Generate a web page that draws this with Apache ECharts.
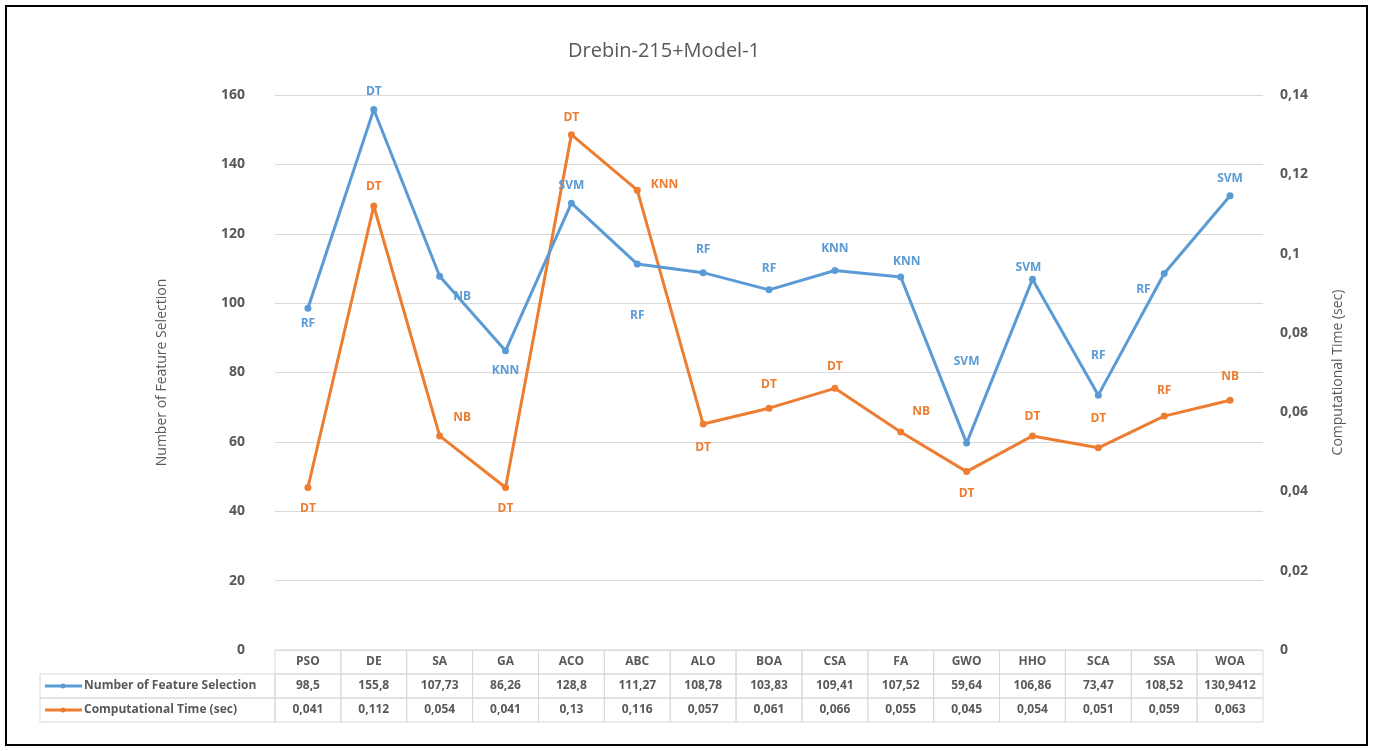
<!DOCTYPE html>
<html>
<head>
<meta charset="utf-8">
<script src="https://cdn.jsdelivr.net/npm/echarts@6/dist/echarts.min.js"></script>
<style>
  html, body { margin: 0; padding: 0; background: #fff; }
  #frame {
    position: absolute; left: 5px; top: 5px; width: 1359px; height: 737px;
    border: 2px solid #000; box-sizing: content-box;
  }
  #chart { position: absolute; left: 0; top: 0; width: 1373px; height: 751px; }
</style>
</head>
<body>
<div id="chart"></div>
<div id="frame"></div>
<script>
const categories = ["PSO", "DE", "SA", "GA", "ACO", "ABC", "ALO", "BOA", "CSA", "FA", "GWO", "HHO", "SCA", "SSA", "WOA"];
const featureCount = [98.5, 155.8, 107.73, 86.26, 128.8, 111.27, 108.78, 103.83, 109.41, 107.52, 59.64, 106.86, 73.47, 108.52, 130.9412];
const compTime = [0.041, 0.112, 0.054, 0.041, 0.13, 0.116, 0.057, 0.061, 0.066, 0.055, 0.045, 0.054, 0.051, 0.059, 0.063];
const featureClassifier = ["RF", "DT", "NB", "KNN", "SVM", "RF", "RF", "RF", "KNN", "KNN", "SVM", "SVM", "RF", "RF", "SVM"];
const timeClassifier = ["DT", "DT", "NB", "DT", "DT", "KNN", "DT", "DT", "DT", "NB", "DT", "DT", "DT", "RF", "NB"];
const seriesNames = ["Number of Feature Selection", "Computational Time (sec)"];

const BLUE = "#5B9BD5";
const ORANGE = "#ED7D31";
const TEXT = "#595959";
const GRID = "#d9d9d9";
const FONT = "'Open Sans', 'Liberation Sans', sans-serif";

// label placement per point (style only)
const blueLabelPos = [
  ["bottom", 6, [0, 0]], ["top", 8, [0, 0]], ["right", 10, [0, 20]], ["bottom", 10, [0, 0]],
  ["top", 8, [0, 0]], ["bottom", 42, [0, 0]], ["top", 14, [0, 0]], ["top", 12, [0, 0]],
  ["top", 12, [0, 0]], ["top", 6, [6, 0]], ["top", 72, [0, 0]], ["top", 2, [-4, 0]],
  ["top", 30, [0, 0]], ["left", 10, [0, 16]], ["top", 8, [0, 0]]
];
const orangeLabelPos = [
  ["bottom", 12, [0, 0]], ["top", 10, [0, 0]], ["right", 10, [0, -18]], ["bottom", 12, [0, 0]],
  ["top", 8, [0, 0]], ["right", 10, [0, -6]], ["bottom", 14, [0, 0]], ["top", 14, [0, 0]],
  ["top", 12, [0, 0]], ["right", 8, [0, -20]], ["bottom", 12, [0, 0]], ["top", 10, [0, 0]],
  ["top", 20, [0, 0]], ["top", 16, [0, 0]], ["top", 14, [0, 0]]
];

function withLabels(values, names, pos, color) {
  return values.map((v, i) => ({
    value: v,
    label: {
      show: true,
      formatter: names[i],
      position: pos[i][0],
      distance: pos[i][1],
      offset: pos[i][2],
      color: color,
      fontSize: 12,
      fontWeight: "bold",
      fontFamily: FONT
    }
  }));
}

const fmt = (v) => String(v).replace(".", ",");

// table cells: [col, row, text]
const tableCells = [];
categories.forEach((c, i) => {
  tableCells.push([i, 0, c]);
  tableCells.push([i, 1, fmt(featureCount[i])]);
  tableCells.push([i, 2, fmt(compTime[i])]);
});

const chart = echarts.init(document.getElementById("chart"), null, { renderer: "canvas" });

const gridLeft = 275, gridRight = 110;

const option = {
  backgroundColor: "#fff",
  animation: false,
  textStyle: { fontFamily: FONT },
  title: {
    text: "Drebin-215+Model-1",
    left: 659,
    top: 36,
    textAlign: "center",
    textStyle: { fontSize: 20, fontWeight: "normal", color: TEXT, fontFamily: FONT }
  },
  grid: [
    { left: gridLeft, right: gridRight, top: 95, bottom: 101 },
    { left: gridLeft, right: gridRight, top: 650, height: 72 }
  ],
  xAxis: [
    {
      gridIndex: 0, type: "category", data: categories, boundaryGap: true,
      axisLine: { show: false }, axisTick: { show: false }, axisLabel: { show: false }
    },
    {
      gridIndex: 1, type: "category", data: categories, boundaryGap: true,
      axisLine: { show: false }, axisTick: { show: false }, axisLabel: { show: false }
    }
  ],
  yAxis: [
    {
      gridIndex: 0, type: "value", min: 0, max: 160, interval: 20,
      name: "Number of Feature Selection", nameLocation: "middle", nameGap: 106,
      nameTextStyle: { color: TEXT, fontSize: 14, fontFamily: FONT },
      axisLine: { show: false }, axisTick: { show: false },
      axisLabel: { color: TEXT, fontSize: 14, fontWeight: "bold", margin: 30 },
      splitLine: { lineStyle: { color: GRID, width: 1 } }
    },
    {
      gridIndex: 0, type: "value", min: 0, max: 0.14, interval: 0.02, position: "right",
      name: "Computational Time (sec)", nameLocation: "middle", nameGap: 68,
      nameRotate: 90,
      nameTextStyle: { color: TEXT, fontSize: 14, fontFamily: FONT },
      axisLine: { show: false }, axisTick: { show: false },
      axisLabel: {
        color: TEXT, fontSize: 14, fontWeight: "bold", margin: 17,
        formatter: (v) => String(+v.toFixed(2)).replace(".", ",")
      },
      splitLine: { show: false }
    },
    {
      gridIndex: 1, type: "category", data: ["", seriesNames[0], seriesNames[1]], inverse: true,
      axisLine: { show: false }, axisTick: { show: false }, axisLabel: { show: false }
    }
  ],
  graphic: [
    // header column of the data table
    { type: "rect", shape: { x: 40, y: 674, width: 235, height: 24 }, style: { fill: "none", stroke: GRID, lineWidth: 1 } },
    { type: "rect", shape: { x: 40, y: 698, width: 235, height: 24 }, style: { fill: "none", stroke: GRID, lineWidth: 1 } },
    { type: "line", shape: { x1: 45, y1: 686, x2: 82, y2: 686 }, style: { stroke: BLUE, lineWidth: 3 } },
    { type: "circle", shape: { cx: 63, cy: 686, r: 2.5 }, style: { fill: BLUE } },
    { type: "text", x: 84, y: 686, style: { text: seriesNames[0], fill: TEXT, font: "bold 12px " + FONT, textVerticalAlign: "middle" } },
    { type: "line", shape: { x1: 45, y1: 710, x2: 82, y2: 710 }, style: { stroke: ORANGE, lineWidth: 3 } },
    { type: "circle", shape: { cx: 63, cy: 710, r: 2.5 }, style: { fill: ORANGE } },
    { type: "text", x: 84, y: 710, style: { text: seriesNames[1], fill: TEXT, font: "bold 12px " + FONT, textVerticalAlign: "middle" } }
  ],
  series: [
    {
      name: seriesNames[0], type: "line", xAxisIndex: 0, yAxisIndex: 0,
      data: withLabels(featureCount, featureClassifier, blueLabelPos, BLUE),
      symbol: "circle", symbolSize: 7,
      lineStyle: { color: BLUE, width: 3 }, itemStyle: { color: BLUE }, z: 3
    },
    {
      name: seriesNames[1], type: "line", xAxisIndex: 0, yAxisIndex: 1,
      data: withLabels(compTime, timeClassifier, orangeLabelPos, ORANGE),
      symbol: "circle", symbolSize: 7,
      lineStyle: { color: ORANGE, width: 3 }, itemStyle: { color: ORANGE }, z: 2
    },
    {
      type: "custom", xAxisIndex: 1, yAxisIndex: 2,
      data: tableCells,
      renderItem: (params, api) => {
        const p = api.coord([api.value(0), api.value(1)]);
        const s = api.size([1, 1]);
        return {
          type: "group",
          children: [
            {
              type: "rect",
              shape: { x: p[0] - s[0] / 2, y: p[1] - s[1] / 2, width: s[0], height: s[1] },
              style: { fill: "none", stroke: GRID, lineWidth: 1 }
            },
            {
              type: "text",
              x: p[0], y: p[1],
              style: {
                text: tableCells[params.dataIndex][2],
                fill: TEXT, font: "bold 12px " + FONT,
                textAlign: "center", textVerticalAlign: "middle"
              }
            }
          ]
        };
      }
    }
  ]
};

chart.setOption(option);
window.addEventListener("resize", () => chart.resize());
</script>
</body>
</html>
